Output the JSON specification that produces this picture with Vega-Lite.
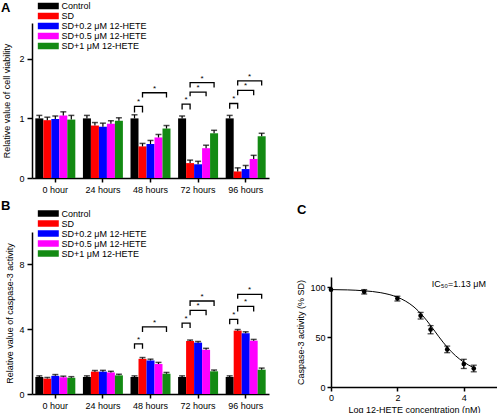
{
  "$schema": "https://vega.github.io/schema/vega-lite/v6.json",
  "padding": {"left": 1, "top": 1, "right": 0, "bottom": 0},
  "config": {
    "font": "Liberation Sans",
    "view": {"stroke": null},
    "axis": {"domainColor": "black", "domainWidth": 1.5, "tickColor": "black", "tickWidth": 1.5, "labelColor": "black", "titleColor": "black", "labelFontSize": 9, "titleFontSize": 9, "titleFontWeight": "normal", "grid": false, "labelFont": "Liberation Sans", "titleFont": "Liberation Sans", "labelOverlap": false, "labelSeparation": 0, "labelFlush": false, "labelBound": false},
    "legend": {"orient": "none", "title": null, "symbolType": "M-2.21,-0.685L2.21,-0.685L2.21,0.685L-2.21,0.685Z", "symbolSize": 90, "symbolStrokeWidth": 0, "labelFontSize": 9, "labelOffset": 8.3, "rowPadding": 0, "padding": 0, "labelFont": "Liberation Sans", "labelColor": "black"},
    "title": {"font": "Liberation Sans", "color": "black", "anchor": "start", "frame": "group", "baseline": "alphabetic"}
  },
  "datasets": {
    "viability": [
      {"time": "0 hour", "treatment": "Control", "value": 1.00, "upper": 1.05},
      {"time": "0 hour", "treatment": "SD", "value": 0.97, "upper": 1.02},
      {"time": "0 hour", "treatment": "SD+0.2 μM 12-HETE", "value": 0.99, "upper": 1.04},
      {"time": "0 hour", "treatment": "SD+0.5 μM 12-HETE", "value": 1.05, "upper": 1.11},
      {"time": "0 hour", "treatment": "SD+1 μM 12-HETE", "value": 0.98, "upper": 1.05},
      {"time": "24 hours", "treatment": "Control", "value": 1.00, "upper": 1.05},
      {"time": "24 hours", "treatment": "SD", "value": 0.88, "upper": 0.93},
      {"time": "24 hours", "treatment": "SD+0.2 μM 12-HETE", "value": 0.86, "upper": 0.92},
      {"time": "24 hours", "treatment": "SD+0.5 μM 12-HETE", "value": 0.91, "upper": 0.96},
      {"time": "24 hours", "treatment": "SD+1 μM 12-HETE", "value": 0.96, "upper": 1.01},
      {"time": "48 hours", "treatment": "Control", "value": 1.00, "upper": 1.06},
      {"time": "48 hours", "treatment": "SD", "value": 0.53, "upper": 0.58},
      {"time": "48 hours", "treatment": "SD+0.2 μM 12-HETE", "value": 0.57, "upper": 0.63},
      {"time": "48 hours", "treatment": "SD+0.5 μM 12-HETE", "value": 0.68, "upper": 0.73},
      {"time": "48 hours", "treatment": "SD+1 μM 12-HETE", "value": 0.83, "upper": 0.88},
      {"time": "72 hours", "treatment": "Control", "value": 1.00, "upper": 1.04},
      {"time": "72 hours", "treatment": "SD", "value": 0.25, "upper": 0.30},
      {"time": "72 hours", "treatment": "SD+0.2 μM 12-HETE", "value": 0.23, "upper": 0.28},
      {"time": "72 hours", "treatment": "SD+0.5 μM 12-HETE", "value": 0.50, "upper": 0.55},
      {"time": "72 hours", "treatment": "SD+1 μM 12-HETE", "value": 0.75, "upper": 0.80},
      {"time": "96 hours", "treatment": "Control", "value": 1.00, "upper": 1.05},
      {"time": "96 hours", "treatment": "SD", "value": 0.11, "upper": 0.17},
      {"time": "96 hours", "treatment": "SD+0.2 μM 12-HETE", "value": 0.15, "upper": 0.21},
      {"time": "96 hours", "treatment": "SD+0.5 μM 12-HETE", "value": 0.32, "upper": 0.38},
      {"time": "96 hours", "treatment": "SD+1 μM 12-HETE", "value": 0.70, "upper": 0.75}
    ],
    "caspase": [
      {"time": "0 hour", "treatment": "Control", "value": 1.05, "upper": 1.12},
      {"time": "0 hour", "treatment": "SD", "value": 0.95, "upper": 1.02},
      {"time": "0 hour", "treatment": "SD+0.2 μM 12-HETE", "value": 1.12, "upper": 1.20},
      {"time": "0 hour", "treatment": "SD+0.5 μM 12-HETE", "value": 1.03, "upper": 1.10},
      {"time": "0 hour", "treatment": "SD+1 μM 12-HETE", "value": 1.00, "upper": 1.07},
      {"time": "24 hours", "treatment": "Control", "value": 1.05, "upper": 1.12},
      {"time": "24 hours", "treatment": "SD", "value": 1.38, "upper": 1.45},
      {"time": "24 hours", "treatment": "SD+0.2 μM 12-HETE", "value": 1.38, "upper": 1.46},
      {"time": "24 hours", "treatment": "SD+0.5 μM 12-HETE", "value": 1.33, "upper": 1.40},
      {"time": "24 hours", "treatment": "SD+1 μM 12-HETE", "value": 1.15, "upper": 1.22},
      {"time": "48 hours", "treatment": "Control", "value": 1.05, "upper": 1.12},
      {"time": "48 hours", "treatment": "SD", "value": 2.17, "upper": 2.25},
      {"time": "48 hours", "treatment": "SD+0.2 μM 12-HETE", "value": 2.07, "upper": 2.15},
      {"time": "48 hours", "treatment": "SD+0.5 μM 12-HETE", "value": 1.85, "upper": 1.95},
      {"time": "48 hours", "treatment": "SD+1 μM 12-HETE", "value": 1.25, "upper": 1.33},
      {"time": "72 hours", "treatment": "Control", "value": 1.05, "upper": 1.12},
      {"time": "72 hours", "treatment": "SD", "value": 3.27, "upper": 3.33},
      {"time": "72 hours", "treatment": "SD+0.2 μM 12-HETE", "value": 3.17, "upper": 3.24},
      {"time": "72 hours", "treatment": "SD+0.5 μM 12-HETE", "value": 2.73, "upper": 2.82},
      {"time": "72 hours", "treatment": "SD+1 μM 12-HETE", "value": 1.40, "upper": 1.48},
      {"time": "96 hours", "treatment": "Control", "value": 1.05, "upper": 1.12},
      {"time": "96 hours", "treatment": "SD", "value": 3.91, "upper": 3.98},
      {"time": "96 hours", "treatment": "SD+0.2 μM 12-HETE", "value": 3.75, "upper": 3.84},
      {"time": "96 hours", "treatment": "SD+0.5 μM 12-HETE", "value": 3.29, "upper": 3.37},
      {"time": "96 hours", "treatment": "SD+1 μM 12-HETE", "value": 1.50, "upper": 1.60}
    ],
    "bracketsA": [
      {"time": "48 hours", "id": "a48a", "k": 1, "pos": 0, "y": 1.10}, {"time": "48 hours", "id": "a48a", "k": 2, "pos": 0, "y": 1.20}, {"time": "48 hours", "id": "a48a", "k": 3, "pos": 1, "y": 1.20}, {"time": "48 hours", "id": "a48a", "k": 4, "pos": 1, "y": 1.10},
      {"time": "48 hours", "id": "a48b", "k": 1, "pos": 1, "y": 1.35}, {"time": "48 hours", "id": "a48b", "k": 2, "pos": 1, "y": 1.43}, {"time": "48 hours", "id": "a48b", "k": 3, "pos": 4, "y": 1.43}, {"time": "48 hours", "id": "a48b", "k": 4, "pos": 4, "y": 1.35},
      {"time": "72 hours", "id": "a72a", "k": 1, "pos": 0, "y": 1.15}, {"time": "72 hours", "id": "a72a", "k": 2, "pos": 0, "y": 1.24}, {"time": "72 hours", "id": "a72a", "k": 3, "pos": 1, "y": 1.24}, {"time": "72 hours", "id": "a72a", "k": 4, "pos": 1, "y": 1.15},
      {"time": "72 hours", "id": "a72b", "k": 1, "pos": 1, "y": 1.37}, {"time": "72 hours", "id": "a72b", "k": 2, "pos": 1, "y": 1.44}, {"time": "72 hours", "id": "a72b", "k": 3, "pos": 3, "y": 1.44}, {"time": "72 hours", "id": "a72b", "k": 4, "pos": 3, "y": 1.37},
      {"time": "72 hours", "id": "a72c", "k": 1, "pos": 1, "y": 1.52}, {"time": "72 hours", "id": "a72c", "k": 2, "pos": 1, "y": 1.60}, {"time": "72 hours", "id": "a72c", "k": 3, "pos": 4, "y": 1.60}, {"time": "72 hours", "id": "a72c", "k": 4, "pos": 4, "y": 1.52},
      {"time": "96 hours", "id": "a96a", "k": 1, "pos": 0, "y": 1.16}, {"time": "96 hours", "id": "a96a", "k": 2, "pos": 0, "y": 1.25}, {"time": "96 hours", "id": "a96a", "k": 3, "pos": 1, "y": 1.25}, {"time": "96 hours", "id": "a96a", "k": 4, "pos": 1, "y": 1.16},
      {"time": "96 hours", "id": "a96b", "k": 1, "pos": 1, "y": 1.39}, {"time": "96 hours", "id": "a96b", "k": 2, "pos": 1, "y": 1.47}, {"time": "96 hours", "id": "a96b", "k": 3, "pos": 3, "y": 1.47}, {"time": "96 hours", "id": "a96b", "k": 4, "pos": 3, "y": 1.39},
      {"time": "96 hours", "id": "a96c", "k": 1, "pos": 1, "y": 1.55}, {"time": "96 hours", "id": "a96c", "k": 2, "pos": 1, "y": 1.63}, {"time": "96 hours", "id": "a96c", "k": 3, "pos": 4, "y": 1.63}, {"time": "96 hours", "id": "a96c", "k": 4, "pos": 4, "y": 1.55}
    ],
    "starsA": [
      {"time": "48 hours", "pos": 0.5, "y": 1.20}, {"time": "48 hours", "pos": 2.5, "y": 1.43},
      {"time": "72 hours", "pos": 0.5, "y": 1.24}, {"time": "72 hours", "pos": 2, "y": 1.44}, {"time": "72 hours", "pos": 2.5, "y": 1.60},
      {"time": "96 hours", "pos": 0.5, "y": 1.25}, {"time": "96 hours", "pos": 2, "y": 1.47}, {"time": "96 hours", "pos": 2.5, "y": 1.63}
    ],
    "bracketsB": [
      {"time": "48 hours", "id": "b48a", "k": 1, "pos": 0, "y": 2.80}, {"time": "48 hours", "id": "b48a", "k": 2, "pos": 0, "y": 3.10}, {"time": "48 hours", "id": "b48a", "k": 3, "pos": 1, "y": 3.10}, {"time": "48 hours", "id": "b48a", "k": 4, "pos": 1, "y": 2.80},
      {"time": "48 hours", "id": "b48b", "k": 1, "pos": 1, "y": 3.83}, {"time": "48 hours", "id": "b48b", "k": 2, "pos": 1, "y": 4.14}, {"time": "48 hours", "id": "b48b", "k": 3, "pos": 4, "y": 4.14}, {"time": "48 hours", "id": "b48b", "k": 4, "pos": 4, "y": 3.83},
      {"time": "72 hours", "id": "b72a", "k": 1, "pos": 0, "y": 4.07}, {"time": "72 hours", "id": "b72a", "k": 2, "pos": 0, "y": 4.38}, {"time": "72 hours", "id": "b72a", "k": 3, "pos": 1, "y": 4.38}, {"time": "72 hours", "id": "b72a", "k": 4, "pos": 1, "y": 4.07},
      {"time": "72 hours", "id": "b72b", "k": 1, "pos": 1, "y": 4.86}, {"time": "72 hours", "id": "b72b", "k": 2, "pos": 1, "y": 5.16}, {"time": "72 hours", "id": "b72b", "k": 3, "pos": 3, "y": 5.16}, {"time": "72 hours", "id": "b72b", "k": 4, "pos": 3, "y": 4.86},
      {"time": "72 hours", "id": "b72c", "k": 1, "pos": 1, "y": 5.43}, {"time": "72 hours", "id": "b72c", "k": 2, "pos": 1, "y": 5.74}, {"time": "72 hours", "id": "b72c", "k": 3, "pos": 4, "y": 5.74}, {"time": "72 hours", "id": "b72c", "k": 4, "pos": 4, "y": 5.43},
      {"time": "96 hours", "id": "b96a", "k": 1, "pos": 0, "y": 4.30}, {"time": "96 hours", "id": "b96a", "k": 2, "pos": 0, "y": 4.61}, {"time": "96 hours", "id": "b96a", "k": 3, "pos": 1, "y": 4.61}, {"time": "96 hours", "id": "b96a", "k": 4, "pos": 1, "y": 4.30},
      {"time": "96 hours", "id": "b96b", "k": 1, "pos": 1, "y": 5.10}, {"time": "96 hours", "id": "b96b", "k": 2, "pos": 1, "y": 5.41}, {"time": "96 hours", "id": "b96b", "k": 3, "pos": 3, "y": 5.41}, {"time": "96 hours", "id": "b96b", "k": 4, "pos": 3, "y": 5.10},
      {"time": "96 hours", "id": "b96c", "k": 1, "pos": 1, "y": 5.88}, {"time": "96 hours", "id": "b96c", "k": 2, "pos": 1, "y": 6.15}, {"time": "96 hours", "id": "b96c", "k": 3, "pos": 4, "y": 6.15}, {"time": "96 hours", "id": "b96c", "k": 4, "pos": 4, "y": 5.88}
    ],
    "starsB": [
      {"time": "48 hours", "pos": 0.5, "y": 3.10}, {"time": "48 hours", "pos": 2.5, "y": 4.14},
      {"time": "72 hours", "pos": 0.5, "y": 4.38}, {"time": "72 hours", "pos": 2, "y": 5.16}, {"time": "72 hours", "pos": 2.5, "y": 5.74},
      {"time": "96 hours", "pos": 0.5, "y": 4.61}, {"time": "96 hours", "pos": 2, "y": 5.41}, {"time": "96 hours", "pos": 2.5, "y": 6.15}
    ],
    "dose": [
      {"logc": 0, "act": 97.3, "lo": 97.3, "hi": 97.3},
      {"logc": 1, "act": 95.2, "lo": 93.0, "hi": 97.4},
      {"logc": 2, "act": 88.6, "lo": 86.0, "hi": 90.8},
      {"logc": 2.7, "act": 71.3, "lo": 68.0, "hi": 74.6},
      {"logc": 3, "act": 57.4, "lo": 53.2, "hi": 61.4},
      {"logc": 3.5, "act": 37.6, "lo": 34.3, "hi": 40.9},
      {"logc": 4, "act": 23.0, "lo": 18.5, "hi": 27.7},
      {"logc": 4.3, "act": 18.5, "lo": 15.2, "hi": 21.8}
    ],
    "fit": [
      {"logc": 0, "act": 97.4}, {"logc": 0.5, "act": 97.1}, {"logc": 1, "act": 96.2}, {"logc": 1.5, "act": 94.3},
      {"logc": 2, "act": 89.8}, {"logc": 2.25, "act": 85.8}, {"logc": 2.5, "act": 80.0}, {"logc": 2.75, "act": 71.8},
      {"logc": 3, "act": 61.5}, {"logc": 3.25, "act": 50.2}, {"logc": 3.5, "act": 39.8}, {"logc": 3.75, "act": 31.3},
      {"logc": 4, "act": 24.9}, {"logc": 4.15, "act": 21.8}, {"logc": 4.3, "act": 19.3}
    ]
  },
  "bounds": "flush",
  "spacing": 54,
  "resolve": {"scale": {"color": "independent", "x": "independent", "y": "independent"}, "legend": {"color": "independent"}},
  "vconcat": [
    {
      "width": 237,
      "height": 155,
      "title": {"text": "A", "fontSize": 13, "fontWeight": "bold", "dx": -31, "offset": -14},
      "resolve": {"scale": {"xOffset": "independent"}},
      "layer": [
        {
          "data": {"name": "viability"},
          "mark": {"type": "bar"},
          "encoding": {
            "x": {"field": "time", "type": "nominal", "title": null, "scale": {"domain": ["0 hour", "24 hours", "48 hours", "72 hours", "96 hours"], "paddingInner": 0.16, "paddingOuter": 0.07}, "axis": {"labelAngle": 0, "tickSize": 4, "labelPadding": 3}},
            "xOffset": {"field": "treatment", "type": "nominal", "scale": {"domain": ["Control", "SD", "SD+0.2 μM 12-HETE", "SD+0.5 μM 12-HETE", "SD+1 μM 12-HETE"]}},
            "y": {"field": "value", "type": "quantitative", "title": "Relative value of cell viability", "scale": {"domain": [0, 2.5]}, "axis": {"values": [0, 0.5, 1, 1.5, 2, 2.5], "labelOverlap": false, "labelExpr": "datum.value % 1 === 0 ? format(datum.value, 'd') : ''", "tickSize": {"condition": {"test": "datum.value % 1 !== 0", "value": 3}, "value": 5}, "labelPadding": 3, "titlePadding": 7}},
            "color": {"field": "treatment", "type": "nominal", "scale": {"domain": ["Control", "SD", "SD+0.2 μM 12-HETE", "SD+0.5 μM 12-HETE", "SD+1 μM 12-HETE"], "range": ["#000000", "#ff0000", "#0000ff", "#ff00ff", "#138a13"]}, "legend": {"legendX": 11.3, "legendY": -22}}
          }
        },
        {
          "data": {"name": "viability"},
          "mark": {"type": "rule", "color": "black", "strokeWidth": 1.2},
          "encoding": {
            "x": {"field": "time", "type": "nominal", "title": null},
            "xOffset": {"field": "treatment", "type": "nominal", "scale": {"domain": ["Control", "SD", "SD+0.2 μM 12-HETE", "SD+0.5 μM 12-HETE", "SD+1 μM 12-HETE"]}},
            "y": {"field": "value", "type": "quantitative", "title": "Relative value of cell viability", "axis": {"labelOverlap": false}},
            "y2": {"field": "upper"}
          }
        },
        {
          "data": {"name": "viability"},
          "mark": {"type": "tick", "color": "black", "thickness": 1.5, "size": 6, "orient": "horizontal"},
          "encoding": {
            "x": {"field": "time", "type": "nominal", "title": null},
            "xOffset": {"field": "treatment", "type": "nominal", "scale": {"domain": ["Control", "SD", "SD+0.2 μM 12-HETE", "SD+0.5 μM 12-HETE", "SD+1 μM 12-HETE"]}},
            "y": {"field": "upper", "type": "quantitative", "title": "Relative value of cell viability", "axis": {"labelOverlap": false}}
          }
        },
        {
          "data": {"name": "bracketsA"},
          "mark": {"type": "line", "color": "black", "strokeWidth": 1.3},
          "encoding": {
            "x": {"field": "time", "type": "nominal", "title": null},
            "xOffset": {"field": "pos", "type": "quantitative", "scale": {"domain": [-0.5, 4.5]}},
            "y": {"field": "y", "type": "quantitative", "title": "Relative value of cell viability", "axis": {"labelOverlap": false}},
            "detail": {"field": "id"},
            "order": {"field": "k"}
          }
        },
        {
          "data": {"name": "starsA"},
          "mark": {"type": "text", "text": "*", "fontSize": 8, "baseline": "alphabetic", "dy": -2, "color": "black"},
          "encoding": {
            "x": {"field": "time", "type": "nominal", "title": null},
            "xOffset": {"field": "pos", "type": "quantitative", "scale": {"domain": [-0.5, 4.5]}},
            "y": {"field": "y", "type": "quantitative", "title": "Relative value of cell viability", "axis": {"labelOverlap": false}}
          }
        }
      ]
    },
    {
      "bounds": "flush",
      "spacing": 62,
      "resolve": {"scale": {"color": "independent", "x": "independent", "y": "independent"}, "legend": {"color": "independent"}},
      "hconcat": [
        {
          "width": 237,
          "height": 162,
          "title": {"text": "B", "fontSize": 13, "fontWeight": "bold", "dx": -31, "offset": -4},
          "resolve": {"scale": {"xOffset": "independent"}},
          "layer": [
            {
              "data": {"name": "caspase"},
              "mark": {"type": "bar"},
              "encoding": {
                "x": {"field": "time", "type": "nominal", "title": null, "scale": {"domain": ["0 hour", "24 hours", "48 hours", "72 hours", "96 hours"], "paddingInner": 0.16, "paddingOuter": 0.07}, "axis": {"labelAngle": 0, "tickSize": 4, "labelPadding": 3}},
                "xOffset": {"field": "treatment", "type": "nominal", "scale": {"domain": ["Control", "SD", "SD+0.2 μM 12-HETE", "SD+0.5 μM 12-HETE", "SD+1 μM 12-HETE"]}},
                "y": {"field": "value", "type": "quantitative", "title": "Relative value of caspase-3 activity", "scale": {"domain": [0, 10]}, "axis": {"values": [0, 1, 2, 3, 4, 5, 6, 7, 8, 9, 10], "labelOverlap": false, "labelExpr": "datum.value % 2 === 0 ? format(datum.value, 'd') : ''", "tickSize": {"condition": {"test": "datum.value % 2 !== 0", "value": 3}, "value": 5}, "labelPadding": 3, "titlePadding": 4}},
                "color": {"field": "treatment", "type": "nominal", "scale": {"domain": ["Control", "SD", "SD+0.2 μM 12-HETE", "SD+0.5 μM 12-HETE", "SD+1 μM 12-HETE"], "range": ["#000000", "#ff0000", "#0000ff", "#ff00ff", "#138a13"]}, "legend": {"legendX": 11.3, "legendY": -23.5}}
              }
            },
            {
              "data": {"name": "caspase"},
              "mark": {"type": "rule", "color": "black", "strokeWidth": 1.2},
              "encoding": {
                "x": {"field": "time", "type": "nominal", "title": null},
                "xOffset": {"field": "treatment", "type": "nominal", "scale": {"domain": ["Control", "SD", "SD+0.2 μM 12-HETE", "SD+0.5 μM 12-HETE", "SD+1 μM 12-HETE"]}},
                "y": {"field": "value", "type": "quantitative", "title": "Relative value of caspase-3 activity", "axis": {"labelOverlap": false}},
                "y2": {"field": "upper"}
              }
            },
            {
              "data": {"name": "caspase"},
              "mark": {"type": "tick", "color": "black", "thickness": 1.5, "size": 6, "orient": "horizontal"},
              "encoding": {
                "x": {"field": "time", "type": "nominal", "title": null},
                "xOffset": {"field": "treatment", "type": "nominal", "scale": {"domain": ["Control", "SD", "SD+0.2 μM 12-HETE", "SD+0.5 μM 12-HETE", "SD+1 μM 12-HETE"]}},
                "y": {"field": "upper", "type": "quantitative", "title": "Relative value of caspase-3 activity", "axis": {"labelOverlap": false}}
              }
            },
            {
              "data": {"name": "bracketsB"},
              "mark": {"type": "line", "color": "black", "strokeWidth": 1.3},
              "encoding": {
                "x": {"field": "time", "type": "nominal", "title": null},
                "xOffset": {"field": "pos", "type": "quantitative", "scale": {"domain": [-0.5, 4.5]}},
                "y": {"field": "y", "type": "quantitative", "title": "Relative value of caspase-3 activity", "axis": {"labelOverlap": false}},
                "detail": {"field": "id"},
                "order": {"field": "k"}
              }
            },
            {
              "data": {"name": "starsB"},
              "mark": {"type": "text", "text": "*", "fontSize": 8, "baseline": "alphabetic", "dy": -2, "color": "black"},
              "encoding": {
                "x": {"field": "time", "type": "nominal", "title": null},
                "xOffset": {"field": "pos", "type": "quantitative", "scale": {"domain": [-0.5, 4.5]}},
                "y": {"field": "y", "type": "quantitative", "title": "Relative value of caspase-3 activity", "axis": {"labelOverlap": false}}
              }
            }
          ]
        },
        {
          "bounds": "flush",
          "spacing": 44,
          "vconcat": [
            {
              "width": 166,
              "height": 1,
              "title": {"text": "C", "fontSize": 13, "fontWeight": "bold", "dx": -34, "offset": 15},
              "data": {"values": []},
              "mark": {"type": "point"},
              "encoding": {}
            },
            {
              "width": 166,
              "height": 110,
              "title": {"text": "IC₅₀=1.13 μM", "fontSize": 9, "fontWeight": "normal", "anchor": "end", "dx": -11, "offset": -12},
              "layer": [
                {
                  "data": {"name": "fit"},
                  "mark": {"type": "line", "color": "black", "strokeWidth": 1, "interpolate": "monotone"},
                  "encoding": {
                    "x": {"field": "logc", "type": "quantitative", "title": "Log 12-HETE concentration (nM)", "scale": {"domain": [0, 5]}, "axis": {"values": [0, 1, 2, 3, 4, 5], "labelOverlap": false, "tickSize": 4, "labelPadding": 2, "titlePadding": 3}},
                    "y": {"field": "act", "type": "quantitative", "title": "Caspase-3 activity (% SD)", "scale": {"domain": [0, 110]}, "axis": {"values": [0, 50, 100], "labelOverlap": false, "tickSize": 4, "labelPadding": 2, "titlePadding": 4}}
                  }
                },
                {
                  "data": {"name": "dose"},
                  "transform": [{"filter": "datum.logc > 0"}],
                  "mark": {"type": "rule", "color": "black", "strokeWidth": 1.3},
                  "encoding": {
                    "x": {"field": "logc", "type": "quantitative", "title": "Log 12-HETE concentration (nM)", "axis": {"labelOverlap": false}},
                    "y": {"field": "lo", "type": "quantitative", "title": "Caspase-3 activity (% SD)", "axis": {"labelOverlap": false}},
                    "y2": {"field": "hi"}
                  }
                },
                {
                  "data": {"name": "dose"},
                  "transform": [{"filter": "datum.logc > 0"}],
                  "mark": {"type": "tick", "color": "black", "thickness": 1.3, "size": 6, "orient": "horizontal"},
                  "encoding": {
                    "x": {"field": "logc", "type": "quantitative", "title": "Log 12-HETE concentration (nM)", "axis": {"labelOverlap": false}},
                    "y": {"field": "lo", "type": "quantitative", "title": "Caspase-3 activity (% SD)", "axis": {"labelOverlap": false}}
                  }
                },
                {
                  "data": {"name": "dose"},
                  "transform": [{"filter": "datum.logc > 0"}],
                  "mark": {"type": "tick", "color": "black", "thickness": 1.3, "size": 6, "orient": "horizontal"},
                  "encoding": {
                    "x": {"field": "logc", "type": "quantitative", "title": "Log 12-HETE concentration (nM)", "axis": {"labelOverlap": false}},
                    "y": {"field": "hi", "type": "quantitative", "title": "Caspase-3 activity (% SD)", "axis": {"labelOverlap": false}}
                  }
                },
                {
                  "data": {"name": "dose"},
                  "mark": {"type": "point", "filled": true, "color": "black", "size": 22, "opacity": 1},
                  "encoding": {
                    "x": {"field": "logc", "type": "quantitative", "title": "Log 12-HETE concentration (nM)", "axis": {"labelOverlap": false}},
                    "y": {"field": "act", "type": "quantitative", "title": "Caspase-3 activity (% SD)", "axis": {"labelOverlap": false}}
                  }
                }
              ]
            }
          ]
        }
      ]
    }
  ]
}
